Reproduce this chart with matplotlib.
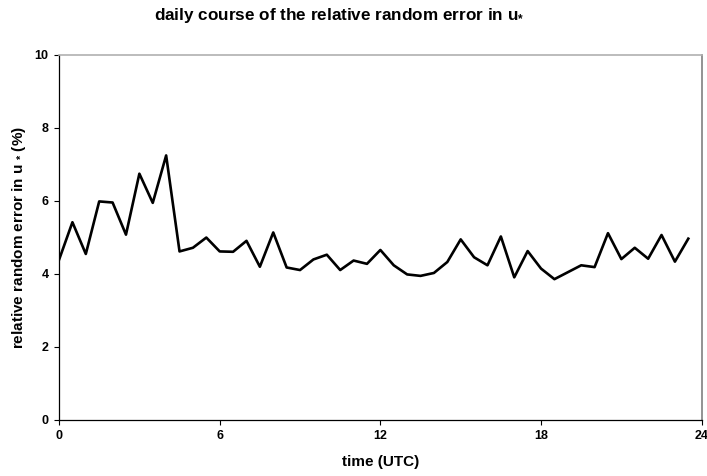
import matplotlib
matplotlib.use("Agg")
import matplotlib.pyplot as plt

plt.rcParams["font.family"] = ["Liberation Sans", "DejaVu Sans"]
plt.rcParams["font.weight"] = "bold"
plt.rcParams["mathtext.fontset"] = "custom"
plt.rcParams["mathtext.rm"] = "Liberation Sans:bold"
plt.rcParams["mathtext.bf"] = "Liberation Sans:bold"

# half-hourly values, 00:00 to 23:30 UTC
time_utc = [i * 0.5 for i in range(48)]
rel_error = [4.38, 5.41, 4.54, 5.98, 5.95, 5.07, 6.74, 5.94, 7.24, 4.61,
             4.71, 4.99, 4.61, 4.60, 4.90, 4.19, 5.13, 4.17, 4.10, 4.39,
             4.52, 4.10, 4.36, 4.27, 4.65, 4.23, 3.98, 3.94, 4.02, 4.32,
             4.94, 4.45, 4.23, 5.02, 3.90, 4.62, 4.14, 3.85, 4.04, 4.23,
             4.18, 5.11, 4.40, 4.71, 4.41, 5.06, 4.33, 4.96]

x_ticks = [0, 6, 12, 18, 24]
y_ticks = [0, 2, 4, 6, 8, 10]

fig = plt.figure(figsize=(7.07, 4.76), dpi=100)
ax = fig.add_axes([0.0835, 0.1183, 0.909, 0.7668])

ax.plot(time_utc, rel_error, color="black", linewidth=1.9)

ax.set_xlim(0, 24)
ax.set_ylim(0, 10)
ax.set_xticks(x_ticks)
ax.set_yticks(y_ticks)
ax.tick_params(direction="out", length=3.5, width=0.8, labelsize=9, pad=4)
for lab in ax.get_xticklabels() + ax.get_yticklabels():
    lab.set_fontweight("bold")

ax.spines["left"].set_color("black")
ax.spines["bottom"].set_color("black")
ax.spines["left"].set_linewidth(0.9)
ax.spines["bottom"].set_linewidth(0.9)
ax.spines["top"].set_color("#b0b0b0")
ax.spines["right"].set_color("#808080")
ax.spines["top"].set_linewidth(1.2)
ax.spines["right"].set_linewidth(1.2)

ax.set_xlabel("time (UTC)", fontsize=11, fontweight="bold", labelpad=9)
ax.set_ylabel(r"relative random error in u $_{*}$ (%)", fontsize=11,
              fontweight="bold", labelpad=5)
fig.text(0.48, 0.968, r"daily course of the relative random error in u$_{*}$",
         fontsize=12.3, fontweight="bold", ha="center", va="center")

fig.savefig("out.png", dpi=100)
